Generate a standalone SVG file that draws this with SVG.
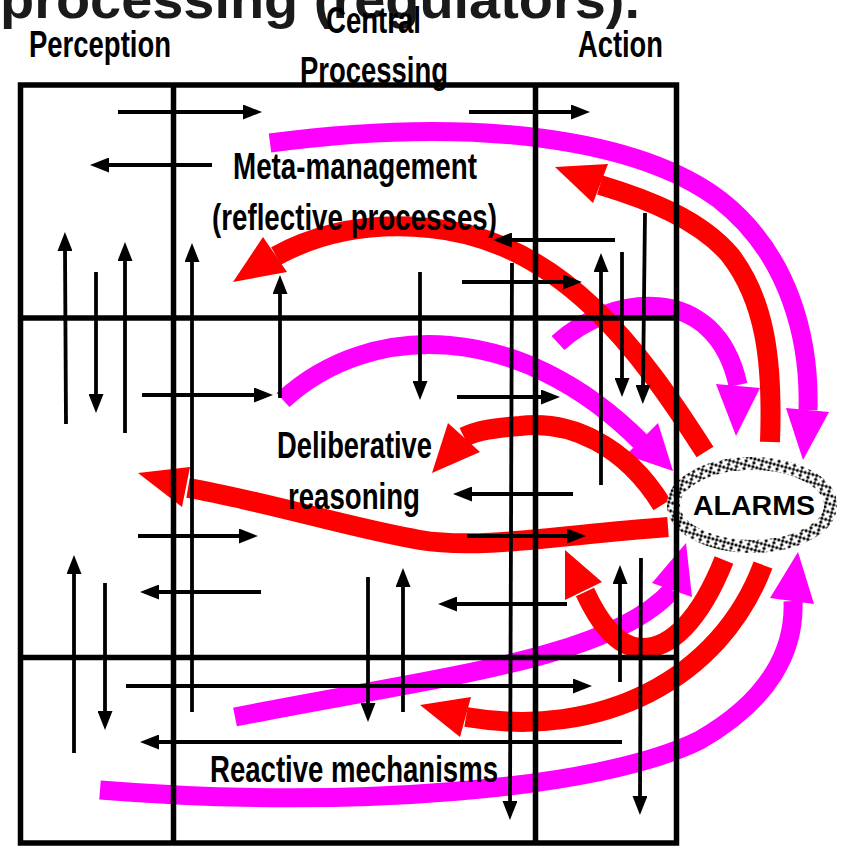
<svg xmlns="http://www.w3.org/2000/svg" width="842" height="846" viewBox="0 0 842 846">
<style>
.frame{stroke:#000;stroke-width:5.5;fill:none}
.arr{stroke:#000;stroke-width:3.8;fill:none;marker-end:url(#ah)}
.mag{stroke:#ff00ff;stroke-width:19;fill:none;stroke-linecap:butt}
.red{stroke:#ff0000;stroke-width:20;fill:none;stroke-linecap:butt}
.maghead{fill:#ff00ff}
.redhead{fill:#ff0000}
.lbl{font-family:"Liberation Sans",Arial,sans-serif;font-weight:bold;font-size:36px;fill:#000}
.title{font-family:"Liberation Sans",Arial,sans-serif;font-weight:bold;font-size:54px;fill:#1a1a1a}
</style>
<defs>
<marker id="ah" markerUnits="userSpaceOnUse" markerWidth="19" markerHeight="15" refX="2" refY="7.5" orient="auto">
<path d="M0,0 L19,7.5 L0,15 z" fill="#000"/>
</marker>
<pattern id="braid" width="8" height="8" patternUnits="userSpaceOnUse" patternTransform="rotate(15)">
<rect width="8" height="8" fill="#000"/>
<path d="M0.5,1.5 L3,4 L0.5,6.5 M7.5,1.5 L5,4 L7.5,6.5 M1.5,0.5 L4,3 L6.5,0.5 M1.5,7.5 L4,5 L6.5,7.5" stroke="#fff" stroke-width="1.5" fill="none"/>
</pattern>
</defs>
<rect width="842" height="846" fill="#fff"/>

<g id="title"><text class="title" x="0" y="18" textLength="640" lengthAdjust="spacingAndGlyphs">processing (regulators).</text></g>

<g id="curves">
<path class="mag" d="M270,143 C480,115 640,140 720,200 C790,255 810,340 808,410"/>
<polygon class="maghead" points="786,408 829,412 803,460"/>
<path class="mag" d="M558,343 C610,295 715,280 738,385"/>
<polygon class="maghead" points="716,384 760,388 736,436"/>
<path class="mag" d="M283,400 C370,320 520,320 642,443"/>
<polygon class="maghead" points="626,455 658,423 673,471"/>
<path class="mag" d="M235,717 C430,678 610,660 672,590"/>
<polygon class="maghead" points="652,583 692,597 686,543"/>
<path class="mag" d="M100,790 C350,810 600,790 700,740 C770,700 795,650 793,601"/>
<polygon class="maghead" points="770,598 814,604 798,552"/>

<path class="red" d="M770,442 C773,360 765,300 730,255 C700,220 650,200 600,185"/>
<polygon class="redhead" points="608,164 593,203 555,167"/>
<path class="red" d="M705,452 C640,350 560,240 430,228 C370,222 320,232 276,256"/>
<polygon class="redhead" points="263,237 287,272 233,282"/>
<path class="red" d="M662,505 C625,445 570,420 520,426 C495,428 478,430 464,437"/>
<polygon class="redhead" points="448,423 480,452 432,473"/>
<path class="red" d="M668,527 C560,535 480,550 420,540 C350,528 260,500 188,488"/>
<polygon class="redhead" points="190,467 182,507 138,473"/>
<path class="red" d="M724,560 C700,620 670,650 640,648 C615,646 598,620 585,592"/>
<polygon class="redhead" points="602,582 565,600 565,550"/>
<path class="red" d="M763,565 C720,680 600,740 466,717"/>
<polygon class="redhead" points="471,697 460,737 420,705"/>
</g>

<g id="alarms">
<ellipse cx="752" cy="505" rx="78.5" ry="41.5" fill="#fff" stroke="url(#braid)" stroke-width="13"/>
<text class="lbl" x="693" y="515" style="font-size:27px" textLength="122" lengthAdjust="spacingAndGlyphs">ALARMS</text>
</g>

<g id="frame">
<rect class="frame" x="20.5" y="85" width="656" height="758"/>
<line class="frame" x1="173.5" y1="85" x2="173.5" y2="843"/>
<line class="frame" x1="535.5" y1="85" x2="535.5" y2="843"/>
<line class="frame" x1="20.5" y1="318" x2="676.5" y2="318"/>
<line class="frame" x1="20.5" y1="657.5" x2="676.5" y2="657.5"/>
</g>

<g id="connectors">
<line class="arr" x1="118" y1="112" x2="245" y2="112"/>
<line class="arr" x1="469" y1="112" x2="573" y2="112"/>
<line class="arr" x1="212" y1="165" x2="107" y2="165"/>
<line class="arr" x1="615" y1="240" x2="510" y2="240"/>
<line class="arr" x1="462" y1="282" x2="565" y2="282"/>
<line class="arr" x1="142" y1="395" x2="256" y2="395"/>
<line class="arr" x1="457" y1="397" x2="543" y2="397"/>
<line class="arr" x1="573" y1="494" x2="470" y2="494"/>
<line class="arr" x1="138" y1="536" x2="241" y2="536"/>
<line class="arr" x1="467" y1="536" x2="569" y2="536"/>
<line class="arr" x1="261" y1="592" x2="157" y2="592"/>
<line class="arr" x1="567" y1="604" x2="455" y2="604"/>
<line class="arr" x1="126" y1="686" x2="575" y2="686"/>
<line class="arr" x1="622" y1="742" x2="157" y2="742"/>

<line class="arr" x1="66" y1="424" x2="65" y2="249"/>
<line class="arr" x1="96" y1="272" x2="96" y2="396"/>
<line class="arr" x1="125" y1="433" x2="125" y2="259"/>
<line class="arr" x1="192" y1="712" x2="192" y2="260"/>
<line class="arr" x1="280" y1="398" x2="280" y2="292"/>
<line class="arr" x1="420" y1="272" x2="420" y2="383"/>
<line class="arr" x1="512" y1="263" x2="510" y2="803"/>
<line class="arr" x1="601" y1="485" x2="601" y2="270"/>
<line class="arr" x1="622" y1="252" x2="622" y2="380"/>
<line class="arr" x1="645" y1="213" x2="643" y2="387"/>
<line class="arr" x1="74" y1="753" x2="74" y2="572"/>
<line class="arr" x1="105" y1="583" x2="105" y2="713"/>
<line class="arr" x1="368" y1="577" x2="368" y2="705"/>
<line class="arr" x1="403" y1="712" x2="403" y2="585"/>
<line class="arr" x1="620" y1="682" x2="620" y2="582"/>
<line class="arr" x1="641" y1="558" x2="640" y2="798"/>
</g>

<g id="perception"><text class="lbl" x="29" y="57" textLength="142" lengthAdjust="spacingAndGlyphs">Perception</text></g>
<g id="central-processing">
<text class="lbl" x="326" y="33" textLength="95" lengthAdjust="spacingAndGlyphs">Central</text>
<text class="lbl" x="300" y="83" textLength="148" lengthAdjust="spacingAndGlyphs">Processing</text>
</g>
<g id="action"><text class="lbl" x="578" y="57" textLength="85" lengthAdjust="spacingAndGlyphs">Action</text></g>
<g id="meta-management">
<text class="lbl" x="233" y="179" textLength="244" lengthAdjust="spacingAndGlyphs">Meta-management</text>
<text class="lbl" x="212" y="230" textLength="285" lengthAdjust="spacingAndGlyphs">(reflective processes)</text>
</g>
<g id="deliberative">
<text class="lbl" x="277" y="458" textLength="155" lengthAdjust="spacingAndGlyphs">Deliberative</text>
<text class="lbl" x="288" y="509" textLength="132" lengthAdjust="spacingAndGlyphs">reasoning</text>
</g>
<g id="reactive"><text class="lbl" x="210" y="782" textLength="288" lengthAdjust="spacingAndGlyphs">Reactive mechanisms</text></g>
</svg>
